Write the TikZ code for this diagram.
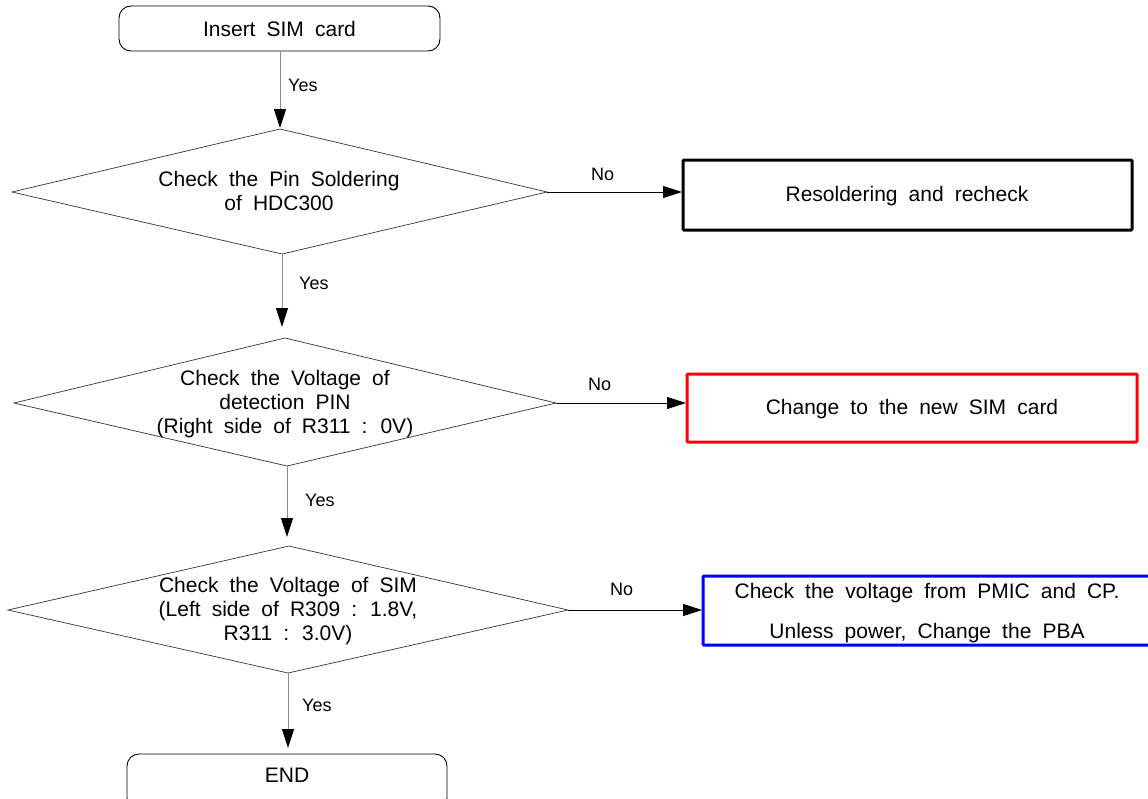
\documentclass[tikz,border=0pt]{standalone}
\usepackage{fontspec}
\setmainfont{Liberation Sans}[WordSpace=1.9]
\usetikzlibrary{arrows.meta,shapes.geometric}
\begin{document}
\begin{tikzpicture}[x=1pt,y=-1pt,
  txt/.style={font=\fontsize{21}{24}\selectfont, align=center, inner sep=0pt},
  lbl/.style={font=\fontsize{18}{20}\selectfont, inner sep=0pt, anchor=west},
  term/.style={draw=black, line width=0.9pt, rounded corners=12pt},
  dia/.style={draw=black!80, line width=0.7pt},
  outbox/.style={line width=3pt, rounded corners=1pt},
  varr/.style={draw=black!45, line width=1pt, -{Triangle[length=19pt,width=12pt,fill=black,color=black]}},
  harr/.style={draw=black, line width=1pt, -{Triangle[length=19pt,width=12pt]}}
]
\useasboundingbox (0,0) rectangle (1148,798);
\begin{scope}
\clip (0,0) rectangle (1148,798);
% start
\draw[term] (119,6) rectangle (440,51);
\node[txt] (start) at (279.5,28.5) {Insert SIM card};
\coordinate (startb) at (280,51);
% diamond 1
\draw[dia] (12,192) -- (280,129) -- (547,192) -- (282,254) -- cycle;
\coordinate (d1t) at (280,128);
\coordinate (d1r) at (547,192);
\coordinate (d1b) at (282,254);
\node[txt] (d1) at (279,191) {Check the Pin Soldering\\of HDC300};
% box 1
\draw[outbox, draw=black] (683,160) rectangle (1132,230);
\node[txt] (b1) at (907,196) {Resoldering and recheck};
\coordinate (b1l) at (682,192);
% diamond 2
\draw[dia] (14,403) -- (285,338) -- (556,403) -- (287,466) -- cycle;
\coordinate (d2in) at (282,327);
\coordinate (d2r) at (556,403);
\coordinate (d2b) at (287,466);
\node[txt] (d2) at (285,404) {Check the Voltage of\\detection PIN\\(Right side of R311 : 0V)};
% box 2
\draw[outbox, draw=red] (687,374) rectangle (1137,442);
\node[txt] (b2) at (912,409) {Change to the new SIM card};
\coordinate (b2l) at (686,403);
% diamond 3
\draw[dia] (8,610) -- (289,546) -- (568,610) -- (288,673) -- cycle;
\coordinate (d3in) at (287,537);
\coordinate (d3r) at (568,610);
\coordinate (d3b) at (288,673);
\node[txt] (d3) at (288,611) {Check the Voltage of SIM\\(Left side of R309 : 1.8V,\\R311 : 3.0V)};
% box 3
\draw[outbox, draw=blue] (703,576) rectangle (1160,645);
\node[txt, font=\fontsize{21}{40}\selectfont] (b3) at (927,613) {Check the voltage from PMIC and CP.\\Unless power, Change the PBA};
\coordinate (b3l) at (702,610);
% end
\draw[term] (127,754) rectangle (447,810);
\node[txt] (endn) at (287,775) {END};
\coordinate (endin) at (288,748);
\end{scope}
% connectors
\draw[varr] (startb) -- (d1t);
\draw[varr] (d1b) -- (d2in);
\draw[varr] (d2b) -- (d3in);
\draw[varr] (d3b) -- (endin);
\draw[harr] (d1r) -- (b1l);
\draw[harr] (d2r) -- (b2l);
\draw[harr] (d3r) -- (b3l);
% labels
\node[lbl] (y1) at (288,85) {Yes};
\node[lbl] (y2) at (299,283) {Yes};
\node[lbl] (y3) at (305,500) {Yes};
\node[lbl] (y4) at (302,705) {Yes};
\node[lbl] (n1) at (591,174) {No};
\node[lbl] (n2) at (588,384) {No};
\node[lbl] (n3) at (610,589) {No};
\end{tikzpicture}
\end{document}
